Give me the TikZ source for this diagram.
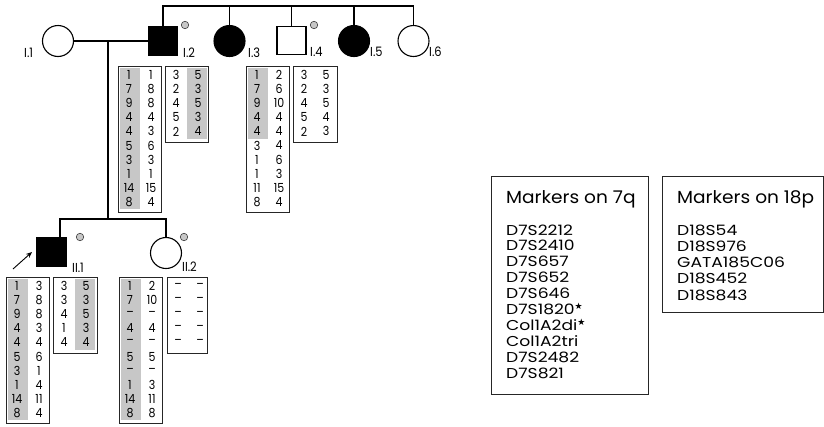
\documentclass[tikz,border=0pt]{standalone}
\usepackage{fontspec}
\setmainfont{Poppins}
\newfontfamily\popn{Poppins}[FakeStretch=0.88]
\newfontfamily\popw{Poppins}[FakeStretch=1.2]
\newfontfamily\popt{Poppins}[FakeStretch=1.06]
\newfontfamily\symf{DejaVu Sans}
\usetikzlibrary{arrows.meta}
\tikzset{
  ped/.style={line width=1.1pt},
  male/.style={draw, line width=1.1pt, minimum width=29pt, minimum height=28pt, inner sep=0},
  female/.style={draw, circle, line width=1.1pt, minimum size=31pt, inner sep=0},
  aff/.style={fill=black},
  carrier/.style={circle, draw=black!75, fill=black!22, line width=0.6pt, minimum size=7.5pt, inner sep=0},
  idlabel/.style={font=\popn\fontsize{13}{13}\selectfont, inner sep=0, anchor=base west},
  digit/.style={font=\popn\fontsize{12.5}{13}\selectfont, inner sep=0},
  frame/.style={draw=black!85, line width=0.8pt, inner sep=0, anchor=north west},
  shade/.style={fill=black!22},
  mtitle/.style={font=\popt\fontsize{17.5}{18}\selectfont, inner sep=0, anchor=base west},
  mtext/.style={font=\popw\fontsize{14.3}{15}\selectfont, inner sep=0, anchor=base west},
}
% #1 name, #2 left, #3 top, #4 width, #5 rows, #6 gray x offset, #7 gray rows, #8 pairs
\newcommand{\hapbox}[8]{%
  \ifnum#7>0 \fill[shade] (#2+#6,#3+2) rectangle (#2+#6+20,#3+2+14.1*#7);\fi
  \node[frame, minimum width=#4pt, minimum height={(14.1*#5+5)*1pt}] (#1) at (#2,#3) {};
  \foreach \a/\b [count=\i from 0] in {#8} {
    \node[digit] (#1-a\i) at (#2+11,#3+9+14.1*\i) {\a};
    \node[digit] (#1-b\i) at (#2+33,#3+9+14.1*\i) {\b};
  }%
}
\newcommand{\dsh}{\textendash}
\newcommand{\str}{\textsuperscript{\symf\fontsize{9}{9}\selectfont ★}}
\begin{document}
\begin{tikzpicture}[x=1pt,y=-1pt]
\useasboundingbox (0,0) rectangle (824,426);
% generation I
\node[female] (I1) at (58,41) {};
\node[male, aff] (I2) at (163,41) {};
\node[female, aff] (I3) at (229.5,41) {};
\node[male] (I4) at (291.5,40.5) {};
\node[female, aff] (I5) at (354,41) {};
\node[female] (I6) at (413.5,41) {};
\coordinate (top) at (0,6);
\draw[ped] (I2.north) -- (I2.north |- top) -- (I6.north |- top) -- (I6.north);
\foreach \n in {I3,I4,I5} \draw[ped] (\n.north) -- (\n.north |- top);
\draw[ped] (I1.east) -- (I2.west);
\coordinate (mid) at (108,41);
\coordinate (sib) at (108,219);
\draw[ped] (mid) -- (sib);
% generation II
\node[male, aff] (II1) at (51.5,252) {};
\node[female] (II2) at (166,253) {};
\coordinate (s1) at (60,219);
\draw[ped] (II1.north -| s1) -- (s1) -- (II2.north |- s1) -- (II2.north);
% carrier dots
\node[carrier] (c2) at (185,25) {};
\node[carrier] (c4) at (314,25) {};
\node[carrier] (c21) at (80,237) {};
\node[carrier] (c22) at (184,237) {};
% labels
\node[idlabel] (l1) at (24,57) {I.1};
\node[idlabel] (l2) at (183,57) {I.2};
\node[idlabel] (l3) at (248,57) {I.3};
\node[idlabel] (l4) at (310,56) {I.4};
\node[idlabel] (l5) at (370,56) {I.5};
\node[idlabel] (l6) at (429,56) {I.6};
\node[idlabel] (l21) at (72,272) {II.1};
\node[idlabel] (l22) at (182,271) {II.2};
% proband arrow
\coordinate (atail) at (13,269);
\coordinate (ahead) at (32,252);
\draw[-{Stealth[length=6pt,width=5pt]}, line width=0.9pt] (atail) -- (ahead);
% haplotypes
\hapbox{h2a}{118}{66}{43}{10}{2}{10}{1/1,7/8,9/8,4/4,4/3,5/6,3/3,1/1,14/15,8/4}
\hapbox{h2b}{165}{66}{43}{5}{22}{5}{3/5,2/3,4/5,5/3,2/4}
\hapbox{h3a}{246}{66}{43}{10}{2}{5}{1/2,7/6,9/10,4/4,4/4,3/4,1/6,1/3,11/15,8/4}
\hapbox{h4b}{293}{66}{44}{5}{22}{0}{3/5,2/3,4/5,5/4,2/3}
\hapbox{h21a}{6}{277}{43}{10}{2}{10}{1/3,7/8,9/8,4/3,4/4,5/6,3/1,1/4,14/11,8/4}
\hapbox{h21b}{53}{277}{44}{5}{22}{5}{3/5,3/3,4/5,1/3,4/4}
\hapbox{h22a}{119}{277}{43}{10}{2}{10}{1/2,7/10,\dsh/\dsh,4/4,\dsh/\dsh,5/5,\dsh/\dsh,1/3,14/11,8/8}
\hapbox{h22b}{167}{277}{40}{5}{22}{0}{\dsh/\dsh,\dsh/\dsh,\dsh/\dsh,\dsh/\dsh,\dsh/\dsh}
% marker boxes
\node[frame, minimum width=157pt, minimum height=218pt] (m7) at (491,176) {};
\node[frame, minimum width=161pt, minimum height=136pt] (m18) at (662,176) {};
\node[mtitle] (t7) at (506,203) {Markers on 7q};
\node[mtitle] (t18) at (677,203) {Markers on 18p};
\foreach \m [count=\i from 0] in {D7S2212,D7S2410,D7S657,D7S652,D7S646,
  D7S1820\str,Col1A2di\str,Col1A2tri,D7S2482,D7S821}
  \node[mtext] (m7-\i) at (506,235+15.9*\i) {\m};
\foreach \m [count=\i from 0] in {D18S54,D18S976,GATA185C06,D18S452,D18S843}
  \node[mtext] (m18-\i) at (677,235+16.3*\i) {\m};
\end{tikzpicture}
\end{document}
